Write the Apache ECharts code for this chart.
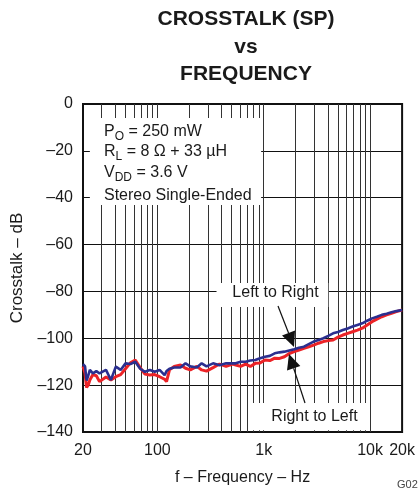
<!DOCTYPE html>
<html>
<head>
<meta charset="utf-8">
<script src="https://cdn.jsdelivr.net/npm/echarts@6/dist/echarts.min.js"></script>
<style>
html,body{margin:0;padding:0;background:#fff;}
#c{width:418px;height:494px;}
</style>
</head>
<body>
<div id="c"></div>
<script>
// ---- data ----
const freq = [20, 20.9, 21.6, 22.4, 23.2, 24.8, 26.7, 28.6, 29.7, 32.9, 36.6, 40.7, 45.2, 50.2, 55.8, 62, 68.9, 76.5, 85, 94.5,
  105, 117, 122, 130, 144, 165, 184, 204, 235, 261, 290, 334, 384, 443, 510, 546, 607, 675, 749, 833,
  925, 1028, 1142, 1269, 1410, 1567, 1740, 1934, 2148, 2388, 2652, 2948, 3274, 3639, 4042, 4491, 4990, 5546, 6160, 6845,
  7604, 8453, 9388, 10433, 11588, 12882, 14304, 15894, 17660, 20000];
const leftToRight = [-111, -112, -118, -116, -113.5, -115, -114, -115, -115.7, -113.5, -117.8, -112.1, -113.5, -110.7, -111, -110, -113, -114.3, -113.5, -114.3,
  -113.5, -115.7, -114, -113, -112.5, -112.5, -110.7, -112, -112.5, -110.7, -112, -110.7, -111.5, -110.7, -110.7, -110.7, -110, -110, -109.5, -109.3,
  -108.5, -107.9, -107.5, -106.4, -106, -105.7, -105.2, -104.7, -104, -103.6, -102.5, -101.4, -100.7, -100, -99, -97.9, -97.3, -96.5, -95.8, -95,
  -94.3, -93.6, -92.5, -91.5, -90.8, -90, -89.5, -88.9, -88.4, -87.9];
const rightToLeft = [-112, -115, -121, -120, -117.8, -115.5, -116, -118.5, -118, -116.5, -117.8, -116.4, -115.5, -113, -110.5, -109.3, -112.5, -115.3, -115.7, -115.5,
  -116.4, -117.5, -118.5, -113.5, -112, -111.4, -112.8, -113.5, -112, -113.5, -114, -112.5, -111, -112, -111, -111.4, -112, -111, -112, -110.7,
  -110.5, -109.3, -109.5, -108.5, -108.6, -107.9, -106.5, -105.7, -105, -104.3, -103.6, -102.9, -102.1, -101.4, -101, -100.7, -99.5, -98.6, -97.9, -97.2,
  -96.5, -95.7, -94.3, -92.9, -91.8, -90.8, -90, -89.3, -88.6, -87.9];
const gridFreqs = [30, 40, 50, 60, 70, 80, 90, 100, 200, 300, 400, 500, 600, 700, 800, 900, 1000,
  2000, 3000, 4000, 5000, 6000, 7000, 8000, 9000, 10000];
const xTickValues = [20, 100, 1000, 10000, 20000];
const xTickLabels = ['20', '100', '1k', '10k', '20k'];
const yTicks = [0, -20, -40, -60, -80, -100, -120, -140];
const yTickLabels = ['0', '\u201320', '\u201340', '\u201360', '\u201380', '\u2013100', '\u2013120', '\u2013140'];

const FONT = '"Liberation Sans", Arial, Helvetica, sans-serif';
const TXT = '#1a1a1a';

const pairs = (xs, ys) => xs.map((x, i) => [x, ys[i]]);

const mctx = document.createElement('canvas').getContext('2d');
function tw(t, size) { mctx.font = size + 'px ' + FONT; return mctx.measureText(t).width; }

function txt(x, y, text, size, opts) {
  opts = opts || {};
  return {
    type: 'text', z: 20, silent: true,
    style: {
      x: x, y: y, text: text,
      font: (opts.weight || 'normal') + ' ' + size + 'px ' + FONT,
      fill: opts.color || TXT,
      align: opts.align || 'left', textAlign: opts.align || 'left',
      verticalAlign: 'middle', textVerticalAlign: 'middle'
    }
  };
}
function subLine(x, y, parts) {
  const out = [];
  let cx = x;
  parts.forEach(p => {
    const size = p[1] ? 12 : 16;
    out.push(txt(cx, p[1] ? y + 5 : y, p[0], size));
    cx += tw(p[0], size);
  });
  return out;
}
function arrow(x1, y1, x2, y2) {
  const dx = x2 - x1, dy = y2 - y1, L = Math.hypot(dx, dy);
  const ux = dx / L, uy = dy / L, hl = 15, hw = 7;
  const bx = x2 - ux * hl, by = y2 - uy * hl;
  return [
    { type: 'polyline', z: 20, silent: true, shape: { points: [[x1, y1], [bx, by]] }, style: { stroke: '#111', lineWidth: 1.2 } },
    { type: 'polygon', z: 20, silent: true, shape: { points: [[x2, y2], [bx - uy * hw, by + ux * hw], [bx + uy * hw, by - ux * hw]] }, style: { fill: '#111' } }
  ];
}

const chart = echarts.init(document.getElementById('c'), null, { renderer: 'canvas' });
chart.setOption({
  animation: false,
  backgroundColor: '#fff',
  grid: { left: 83, top: 104, width: 328, height: 328, show: true, borderColor: '#111', borderWidth: 2, backgroundColor: 'transparent', z: 0 },
  xAxis: {
    type: 'log', logBase: 10, min: 20, max: 20000, z: 0,
    name: 'f \u2013 Frequency \u2013 Hz', nameLocation: 'middle', nameGap: 38,
    nameTextStyle: { fontFamily: FONT, fontSize: 16, color: TXT },
    axisLine: { show: false }, axisTick: { show: false }, splitLine: { show: false },
    axisLabel: {
      fontFamily: FONT, fontSize: 16, color: TXT, margin: 11, showMinLabel: true, showMaxLabel: true,
      formatter: v => {
        for (let i = 0; i < xTickValues.length; i++) {
          if (Math.abs(Math.log10(v) - Math.log10(xTickValues[i])) < 0.01) return xTickLabels[i];
        }
        return '';
      }
    }
  },
  yAxis: {
    type: 'value', min: -140, max: 0, interval: 20, z: 0,
    name: 'Crosstalk \u2013 dB', nameLocation: 'middle', nameGap: 57,
    nameTextStyle: { fontFamily: FONT, fontSize: 17, color: TXT },
    axisLine: { show: false }, axisTick: { show: false },
    splitLine: { show: true, lineStyle: { color: '#111', width: 1 } },
    axisLabel: {
      fontFamily: FONT, fontSize: 16, color: TXT, margin: 10,
      formatter: v => { const i = yTicks.indexOf(v); return i >= 0 ? yTickLabels[i] : ''; }
    }
  },
  series: [
    {
      type: 'line', z: 1, data: [], silent: true, symbol: 'none',
      markLine: {
        z: 1, silent: true, symbol: 'none', animation: false,
        label: { show: false },
        lineStyle: { color: '#333', width: 1, type: 'solid' },
        data: gridFreqs.map(f => ({ xAxis: f }))
      }
    },
    {
      name: 'Right to Left', type: 'line', z: 5, symbol: 'none', smooth: false,
      data: pairs(freq, rightToLeft),
      lineStyle: { color: '#ec2327', width: 3 }
    },
    {
      name: 'Left to Right', type: 'line', z: 6, symbol: 'none', smooth: false,
      data: pairs(freq, leftToRight),
      lineStyle: { color: '#2b2f8f', width: 2.6 }
    }
  ]
});

// white label backgrounds, placed in data coordinates through the axes
const boxDefs = [
  [[23.2, -6], [946, -43.1]],
  [[360, -76.4], [4043, -86.6]],
  [[784, -127.6], [9590, -139.2]]
];
const rects = boxDefs.map(b => {
  const p1 = chart.convertToPixel({ gridIndex: 0 }, b[0]);
  const p2 = chart.convertToPixel({ gridIndex: 0 }, b[1]);
  return {
    type: 'rect', z: 3, silent: true,
    shape: { x: Math.min(p1[0], p2[0]), y: Math.min(p1[1], p2[1]), width: Math.abs(p2[0] - p1[0]), height: Math.abs(p2[1] - p1[1]) },
    style: { fill: '#fff' }
  };
});

const graphics = [].concat(
  rects,
  [txt(246, 19.5, 'CROSSTALK (SP)', 21, { weight: 'bold', align: 'center' }),
   txt(246, 47.5, 'vs', 21, { weight: 'bold', align: 'center' }),
   txt(246, 74, 'FREQUENCY', 21, { weight: 'bold', align: 'center' })],
  subLine(104, 131.7, [['P', 0], ['O', 1], [' = 250 mW', 0]]),
  subLine(104, 151.7, [['R', 0], ['L', 1], [' = 8 \u03A9 + 33 \u00B5H', 0]]),
  subLine(104, 173, [['V', 0], ['DD', 1], [' = 3.6 V', 0]]),
  [txt(104, 196, 'Stereo Single-Ended', 16),
   txt(275.5, 293, 'Left to Right', 16, { align: 'center' }),
   txt(314.5, 416.5, 'Right to Left', 16, { align: 'center' }),
   txt(397, 485, 'G02', 11, { color: '#444' })],
  arrow(278, 306, 294, 347),
  arrow(305, 403, 289, 354)
);
chart.setOption({ graphic: { elements: graphics } });
</script>
</body>
</html>
